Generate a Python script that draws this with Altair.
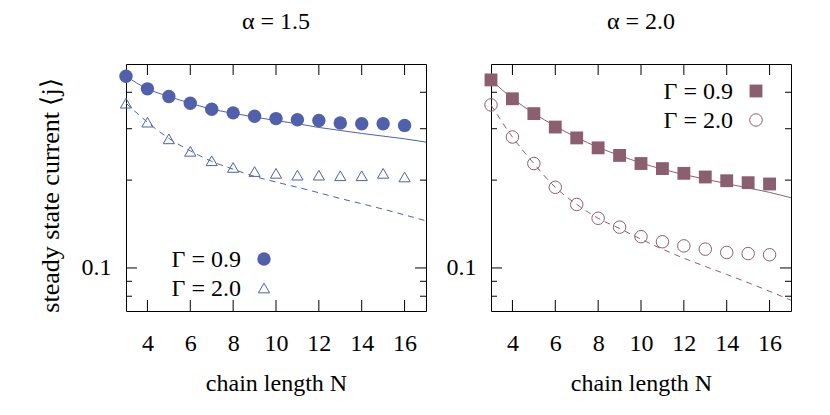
import altair as alt
import pandas as pd

FONT = "Liberation Serif"
FS = 24

# chain length N
N_data = list(range(3, 17))
N_fit = list(range(3, 18))

# alpha = 1.5  (steady state current <j>)
a15_g09_pts = [0.454, 0.411, 0.387, 0.367, 0.350, 0.340, 0.331, 0.325, 0.322, 0.320, 0.314, 0.312, 0.312, 0.308]
a15_g20_pts = [0.367, 0.316, 0.277, 0.251, 0.233, 0.221, 0.214, 0.211, 0.208, 0.208, 0.207, 0.207, 0.211, 0.205]
a15_g09_fit = [0.454, 0.411, 0.387, 0.367, 0.350, 0.339, 0.329, 0.320, 0.312, 0.303, 0.296, 0.289, 0.283, 0.277, 0.270]
a15_g20_fit = [0.367, 0.316, 0.278, 0.252, 0.232, 0.218, 0.206, 0.197, 0.189, 0.181, 0.173, 0.166, 0.159, 0.152, 0.145]

# alpha = 2.0
a20_g09_pts = [0.441, 0.380, 0.338, 0.304, 0.279, 0.258, 0.243, 0.228, 0.219, 0.211, 0.205, 0.199, 0.196, 0.194]
a20_g20_pts = [0.362, 0.281, 0.228, 0.189, 0.165, 0.148, 0.138, 0.128, 0.123, 0.119, 0.116, 0.113, 0.112, 0.111]
a20_g09_fit = [0.441, 0.381, 0.339, 0.306, 0.280, 0.259, 0.243, 0.229, 0.218, 0.209, 0.2015, 0.1945, 0.188, 0.1815, 0.174]
a20_g20_fit = [0.362, 0.281, 0.228, 0.189, 0.1652, 0.148, 0.1365, 0.1255, 0.116, 0.108, 0.1012, 0.095, 0.089, 0.0832, 0.0775]

titles = ["α = 1.5", "α = 2.0"]
legend_labels = ["Γ = 0.9", "Γ = 2.0"]
colors = ["#5060AA", "#8C5F70"]

x_ticks = [4, 6, 8, 10, 12, 14, 16]
y_major = [0.1]
y_minor = [0.08, 0.09, 0.2, 0.3, 0.4]

W, H = 300, 247
MAJ, MIN = 11, 6


def panel(idx, fit_a, fit_b, pts_a, pts_b, shape_a, filled_a, size_a, shape_b, size_b, leg_x, leg_y, ytitle):
    color = colors[idx]
    xscale = alt.Scale(domain=[3, 17], nice=False, zero=False)
    yscale = alt.Scale(type="log", domain=[0.0712, 0.5], nice=False)
    xaxis = alt.Axis(values=x_ticks, title="chain length N", domain=False, ticks=False, tickSize=0,
                     labelPadding=20, titlePadding=16, grid=False, labelFlush=False)
    yargs = dict(values=y_major, format="~g", domain=False, ticks=False, tickSize=0,
                 labelPadding=15, grid=False, labelFlush=False)
    if ytitle:
        yargs.update(title=ytitle, titlePadding=18, titleFontSize=26, titleY=131)
    else:
        yargs.update(title="")
    yaxis = alt.Axis(**yargs)
    X = alt.X("N:Q", scale=xscale, axis=xaxis)
    Y = alt.Y("j:Q", scale=yscale, axis=yaxis)

    fa = pd.DataFrame({"N": N_fit, "j": fit_a})
    fb = pd.DataFrame({"N": N_fit, "j": fit_b})
    pa = pd.DataFrame({"N": N_data, "j": pts_a})
    pb = pd.DataFrame({"N": N_data, "j": pts_b})

    layers = []
    layers.append(alt.Chart(fa).mark_line(color=color, strokeWidth=1, interpolate="monotone", clip=True).encode(x=X, y=Y))
    layers.append(alt.Chart(fb).mark_line(color=color, strokeWidth=1, strokeDash=[6, 5], interpolate="monotone", clip=True).encode(x=X, y=Y))
    layers.append(alt.Chart(pa).mark_point(shape=shape_a, filled=filled_a, size=size_a, color=color, opacity=1, strokeWidth=1).encode(x=X, y=Y))
    layers.append(alt.Chart(pb).mark_point(shape=shape_b, filled=False, size=size_b, color=color, opacity=1, strokeWidth=1).encode(x=X, y=Y))

    # inward ticks
    ymaj = pd.DataFrame({"j": y_major})
    ymin = pd.DataFrame({"j": y_minor})
    xt = pd.DataFrame({"N": x_ticks})
    tk = dict(color="black", strokeWidth=1)
    layers.append(alt.Chart(ymaj).mark_rule(**tk).encode(y=Y, x=alt.value(0), x2=alt.value(MAJ)))
    layers.append(alt.Chart(ymaj).mark_rule(**tk).encode(y=Y, x=alt.value(W - MAJ), x2=alt.value(W)))
    layers.append(alt.Chart(ymin).mark_rule(**tk).encode(y=Y, x=alt.value(0), x2=alt.value(MIN)))
    layers.append(alt.Chart(ymin).mark_rule(**tk).encode(y=Y, x=alt.value(W - MIN), x2=alt.value(W)))
    layers.append(alt.Chart(xt).mark_rule(**tk).encode(x=X, y=alt.value(H), y2=alt.value(H - MAJ)))
    layers.append(alt.Chart(xt).mark_rule(**tk).encode(x=X, y=alt.value(0), y2=alt.value(MAJ)))

    # key
    for k in range(2):
        ld = pd.DataFrame({"label": [legend_labels[k]]})
        yk = leg_y + 29 * k
        layers.append(alt.Chart(ld).mark_text(font=FONT, fontSize=FS, align="right", baseline="middle", color="black", dy=1)
                      .encode(text="label:N", x=alt.value(leg_x), y=alt.value(yk)))
        if k == 0:
            layers.append(alt.Chart(ld).mark_point(shape=shape_a, filled=filled_a, size=size_a, color=color, opacity=1, strokeWidth=1)
                          .encode(x=alt.value(leg_x + 23), y=alt.value(yk)))
        else:
            layers.append(alt.Chart(ld).mark_point(shape=shape_b, filled=False, size=size_b, color=color, opacity=1, strokeWidth=1)
                          .encode(x=alt.value(leg_x + 23), y=alt.value(yk)))

    return alt.layer(*layers).properties(
        width=W, height=H,
        title=alt.TitleParams(titles[idx], font=FONT, fontSize=FS, fontWeight="normal", anchor="middle", offset=30, color="black"),
    )


left = panel(0, a15_g09_fit, a15_g20_fit, a15_g09_pts, a15_g20_pts, "circle", True, 180, "triangle-up", 125,
             115, 195, "steady state current  ⟨j⟩")
right = panel(1, a20_g09_fit, a20_g20_fit, a20_g09_pts, a20_g20_pts, "square", True, 165, "circle", 156,
              242, 27, None)

chart = alt.hconcat(left, right, spacing=18).properties(
    padding={"left": 28, "top": 1, "right": 0, "bottom": 0}
).configure_view(stroke="black", strokeWidth=1).configure_axis(
    labelFont=FONT, titleFont=FONT, labelFontSize=FS, titleFontSize=FS, labelColor="black",
    titleColor="black", titleFontWeight="normal"
).configure_title(font=FONT, fontSize=FS, fontWeight="normal", color="black")

chart.save("out.html", embed_options={"renderer": "svg", "actions": False})
